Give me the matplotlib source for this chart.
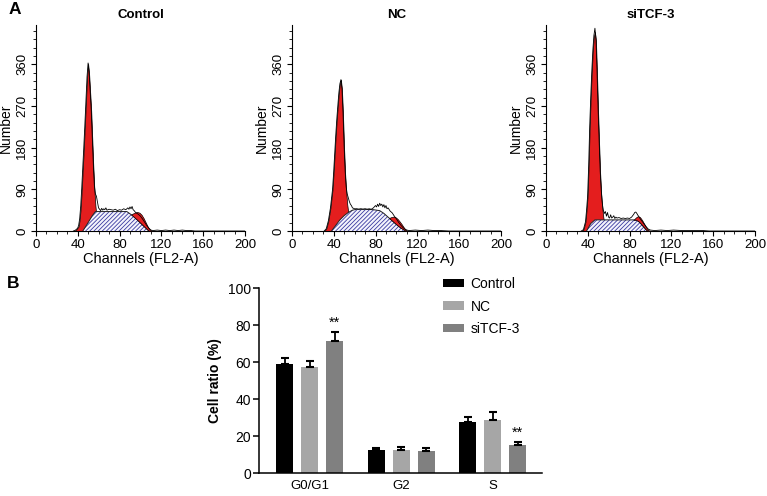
import numpy as np
import matplotlib.pyplot as plt
from matplotlib.ticker import MultipleLocator

plt.rcParams['font.family'] = ['Liberation Sans', 'DejaVu Sans']
plt.rcParams['hatch.linewidth'] = 0.6

# ---- 流式直方图数据 ----
panel_titles = ['Control', 'NC', 'siTCF-3']

# Control: 原始数据曲线
ctrl_ch = [36, 38, 40, 41, 42, 43, 44, 45, 46, 47, 48, 49, 50, 51, 52, 53, 54, 55, 56, 57,
           58, 59, 60, 61, 62, 63, 64, 65, 66, 67, 68, 70, 72, 74, 76, 78, 80, 82, 84, 86,
           88, 89, 90, 91, 92, 93, 94, 95, 96, 98, 100, 102, 104, 106, 108, 110, 112, 116,
           120, 124, 128, 132, 136, 140, 144, 148, 152, 200]
ctrl_n = [0, 2, 6, 12, 27, 55, 95, 140, 185, 233, 283, 333, 363, 342, 302, 262, 203, 145, 98, 80,
          75, 62, 50, 47, 44, 49, 45, 48, 46, 50, 45, 47, 46, 45, 47, 44, 46, 45, 48, 46,
          50, 47, 52, 48, 53, 46, 44, 41, 39, 36, 32, 26, 19, 12, 6, 2, 1, 2,
          1, 2, 1, 2, 1, 2, 1, 1, 0, 0]
ctrl_g1_ch = [37, 39, 41, 42, 43, 44, 45, 46, 47, 48, 49, 50, 51, 52, 53, 54, 55, 56, 57, 58, 60, 62, 64]
ctrl_g1_n = [0, 4, 10, 25, 50, 90, 135, 180, 230, 280, 330, 362, 340, 300, 260, 200, 140, 90, 55, 30, 10, 2, 0]
ctrl_s_ch = [45, 50, 54, 57, 87, 92, 97, 102, 108]
ctrl_s_n = [0, 18, 33, 42, 42, 34, 24, 13, 0]
ctrl_g2_ch = [91, 93, 95, 97, 99, 101, 103, 105, 107, 109, 111]
ctrl_g2_n = [0, 6, 12, 17, 20, 20, 17, 12, 7, 3, 0]

# NC
nc_ch = [31, 33, 35, 37, 39, 40, 41, 42, 43, 44, 45, 46, 47, 48, 49, 50, 51, 52, 53, 54,
         55, 56, 57, 58, 60, 62, 64, 66, 68, 70, 72, 74, 76, 78, 80, 81, 82, 83, 84, 85,
         86, 87, 88, 89, 90, 91, 92, 94, 96, 98, 100, 102, 104, 106, 108, 110, 112, 118,
         124, 130, 136, 142, 150, 200]
nc_n = [0, 5, 22, 50, 90, 125, 165, 205, 240, 270, 298, 318, 327, 308, 255, 185, 130, 95, 80, 72,
        64, 58, 55, 50, 48, 48, 47, 48, 47, 48, 47, 48, 47, 50, 55, 52, 58, 53, 60, 55,
        58, 52, 57, 50, 55, 48, 50, 43, 39, 32, 26, 19, 13, 8, 4, 2, 1, 2,
        1, 2, 1, 1, 0, 0]
nc_g1_ch = [31, 33, 35, 37, 39, 40, 41, 42, 43, 44, 45, 46, 47, 48, 49, 50, 51, 52, 53, 54, 55, 56, 58, 60, 62]
nc_g1_n = [0, 5, 22, 50, 90, 125, 165, 205, 240, 270, 298, 318, 327, 305, 250, 180, 125, 85, 58, 40, 27, 18, 7, 2, 0]
nc_s_ch = [38, 42, 46, 50, 54, 58, 62, 70, 78, 84, 88, 92, 96, 100, 104, 109]
nc_s_n = [0, 12, 24, 33, 40, 45, 47, 47, 46, 44, 38, 30, 22, 14, 7, 0]
nc_g2_ch = [93, 95, 97, 99, 101, 103, 105, 107, 109, 111]
nc_g2_n = [0, 6, 11, 14, 14, 12, 9, 5, 2, 0]

# siTCF-3
si_ch = [34, 36, 38, 39, 40, 41, 42, 43, 44, 45, 46, 47, 48, 49, 50, 51, 52, 53, 54, 55,
         56, 57, 58, 59, 60, 61, 62, 63, 64, 65, 66, 67, 68, 70, 72, 74, 76, 78, 80, 82,
         84, 85, 86, 87, 88, 89, 90, 92, 94, 96, 98, 100, 104, 110, 116, 122, 130, 140,
         150, 156, 200]
si_n = [0, 3, 20, 45, 75, 140, 225, 290, 345, 390, 422, 438, 415, 345, 265, 195, 130, 88, 60, 45,
        38, 42, 32, 40, 30, 28, 35, 28, 30, 33, 27, 30, 28, 29, 27, 28, 27, 28, 27, 30,
        36, 40, 41, 38, 34, 31, 27, 21, 15, 9, 4, 2, 1, 2, 1, 2, 1, 1,
        1, 0, 0]
si_g1_ch = [34, 36, 38, 39, 40, 41, 42, 43, 44, 45, 46, 47, 48, 49, 50, 51, 52, 53, 54, 55, 56, 58, 60]
si_g1_n = [0, 3, 20, 45, 75, 140, 225, 290, 345, 390, 420, 430, 410, 340, 260, 190, 125, 80, 50, 30, 15, 4, 0]
si_s_ch = [39, 43, 47, 87, 90, 93, 97]
si_s_n = [0, 16, 24, 24, 18, 10, 0]
si_g2_ch = [84, 86, 88, 90, 92, 94, 96, 98, 100]
si_g2_n = [0, 5, 10, 12, 11, 8, 5, 2, 0]

# ---- 细胞周期柱状图数据 ----
phases = ['G0/G1', 'G2', 'S']
groups = ['Control', 'NC', 'siTCF-3']
ctrl_pct = [58.9, 12.4, 27.9]
ctrl_err = [3.3, 1.1, 2.7]
nc_pct = [57.7, 12.8, 28.8]
nc_err = [2.8, 1.4, 4.5]
si_pct = [71.7, 12.3, 15.3]
si_err = [4.9, 1.2, 1.8]
si_sig = ['**', '', '**']

bar_colors = ['#000000', '#a6a6a6', '#808080']

fig = plt.figure(figsize=(7.67, 4.96), dpi=100)

panels = [
    (ctrl_ch, ctrl_n, ctrl_g1_ch, ctrl_g1_n, ctrl_s_ch, ctrl_s_n, ctrl_g2_ch, ctrl_g2_n),
    (nc_ch, nc_n, nc_g1_ch, nc_g1_n, nc_s_ch, nc_s_n, nc_g2_ch, nc_g2_n),
    (si_ch, si_n, si_g1_ch, si_g1_n, si_s_ch, si_s_n, si_g2_ch, si_g2_n),
]
lefts = [35.7, 291.7, 545.7]
red = '#e41e1e'
hatch_col = '#3a3aa0'

for i, (title, p) in enumerate(zip(panel_titles, panels)):
    ch, n, g1c, g1n, sc, sn, g2c, g2n = p
    ax = fig.add_axes([lefts[i] / 767, (496 - 231) / 496, 209.5 / 767, 206 / 496])
    # G1 峰
    ax.fill_between(g1c, 0, g1n, facecolor=red, edgecolor='black', lw=0.5, zorder=2)
    # S 期（阴影）
    ax.fill_between(sc, 0, sn, facecolor='#f4f4fc', edgecolor=hatch_col, hatch='////////',
                    lw=0, zorder=3)
    ax.plot(sc, sn, color='#222222', lw=0.7, zorder=3.2)
    # G2 峰叠加在 S 上
    base = np.interp(g2c, sc, sn)
    top = base + np.array(g2n)
    ax.fill_between(g2c, base, top, facecolor=red, edgecolor='black', lw=0.5, zorder=3.5)
    # 原始数据
    ax.plot(ch, n, color='black', lw=0.6, zorder=4)

    ax.set_xlim(0, 200)
    ax.set_ylim(0, 445)
    ax.spines['top'].set_visible(False)
    ax.spines['right'].set_visible(False)
    for s in ('left', 'bottom'):
        ax.spines[s].set_linewidth(0.8)
    ax.xaxis.set_major_locator(MultipleLocator(40))
    ax.xaxis.set_minor_locator(MultipleLocator(10))
    ax.yaxis.set_major_locator(MultipleLocator(90))
    ax.yaxis.set_minor_locator(MultipleLocator(18))
    ax.tick_params(which='major', direction='out', length=3.5, width=0.8, labelsize=9.5, pad=2)
    ax.tick_params(which='minor', direction='out', length=2, width=0.6)
    ax.tick_params(axis='y', labelrotation=90)
    for lab in ax.get_yticklabels():
        lab.set_va('center')
    ax.set_title(title, fontsize=9.5, fontweight='bold', pad=5)
    ax.set_xlabel('Channels (FL2-A)', fontsize=10.5, labelpad=1)
    ax.set_ylabel('Number', fontsize=10, labelpad=2)

# ---- 柱状图 ----
bx = fig.add_axes([259.3 / 767, (496 - 473.3) / 496, 282.4 / 767, 185 / 496])
x = np.arange(len(phases))
offsets = [-0.272, 0, 0.272]
width = 0.185
series = [(ctrl_pct, ctrl_err), (nc_pct, nc_err), (si_pct, si_err)]
for k, ((vals, errs), name) in enumerate(zip(series, groups)):
    xs = x + offsets[k]
    bx.bar(xs, vals, width, color=bar_colors[k], label=name, zorder=2)
    bx.errorbar(xs, vals, yerr=[np.zeros(len(errs)), errs], fmt='none', ecolor='black',
                elinewidth=1.3, capsize=2.6, capthick=1.5, zorder=3)
for j, mark in enumerate(si_sig):
    if mark:
        bx.text(x[j] + offsets[2], si_pct[j] + si_err[j] + 1.2, mark, ha='center', va='bottom',
                fontsize=10.5)

bx.set_xlim(-0.549, 2.533)
bx.set_ylim(0, 100)
bx.spines['top'].set_visible(False)
bx.spines['right'].set_visible(False)
for s in ('left', 'bottom'):
    bx.spines[s].set_linewidth(1.1)
bx.set_yticks([0, 20, 40, 60, 80, 100])
bx.set_xticks(x)
bx.set_xticklabels(phases)
bx.tick_params(axis='y', direction='out', length=4, width=1.1, labelsize=10, pad=2)
bx.tick_params(axis='x', length=0, labelsize=9.5, pad=5)
bx.set_ylabel('Cell ratio (%)', fontsize=10, fontweight='bold', labelpad=4)
bx.legend(loc='upper left', bbox_to_anchor=(0.65, 1.06), frameon=False, fontsize=10,
          handlelength=1.5, handleheight=0.55, handletextpad=0.5, labelspacing=0.6,
          borderpad=0, borderaxespad=0)

fig.text(9 / 767, 1 - 9 / 496, 'A', fontsize=12.5, fontweight='bold', ha='left', va='center')
fig.text(7 / 767, 1 - 283 / 496, 'B', fontsize=12.5, fontweight='bold', ha='left', va='center')

fig.savefig('out.png', dpi=100)
